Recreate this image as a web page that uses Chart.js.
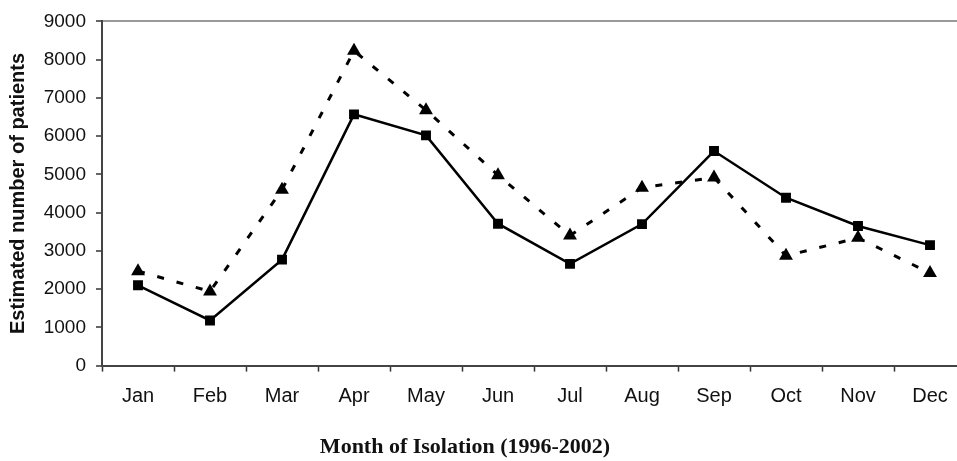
<!DOCTYPE html>
<html lang="en">
<head>
    <meta charset="UTF-8">
    <title>Estimated number of patients by month of isolation</title>
    <script src="https://cdn.jsdelivr.net/npm/chart.js@4.4.0/dist/chart.umd.min.js"></script>
    <style>
        html, body { margin: 0; padding: 0; background: #fff; overflow: hidden; }
        /* the original plot runs a little past the right edge of the picture,
           so the canvas is slightly wider than the window */
        #lineChart { display: block; }
    </style>
</head>
<body>
    <canvas id="lineChart" width="966" height="461"></canvas>
    <script>
        // values
        const months = ['Jan', 'Feb', 'Mar', 'Apr', 'May', 'Jun', 'Jul', 'Aug', 'Sep', 'Oct', 'Nov', 'Dec'];
        const squareSeries = [2100, 1180, 2770, 6570, 6020, 3710, 2660, 3700, 5610, 4390, 3650, 3150];
        const triangleSeries = [2470, 1940, 4600, 8230, 6680, 4980, 3400, 4650, 4920, 2870, 3340, 2420];
        const yMin = 0;
        const yMax = 9000;
        const yStep = 1000;

        // the bottom title sits a bit left of the page centre in the original
        const shiftTitle = {
            id: 'shiftTitle',
            afterLayout(chart) {
                const t = chart.titleBlock;
                if (t) {
                    t.left -= 18;
                    t.right -= 18;
                }
            }
        };

        const ctx = document.getElementById('lineChart').getContext('2d');
        const lineChart = new Chart(ctx, {
            type: 'line',
            data: {
                labels: months,
                datasets: [{
                    label: 'Series 1',
                    data: squareSeries,
                    borderColor: '#000',
                    backgroundColor: '#000',
                    borderWidth: 2.5,
                    pointStyle: 'rect',
                    pointRadius: 7,
                    pointBorderWidth: 0,
                    tension: 0
                }, {
                    label: 'Series 2',
                    data: triangleSeries,
                    borderColor: '#000',
                    backgroundColor: '#000',
                    borderWidth: 3,
                    borderDash: [7, 13],
                    pointStyle: 'triangle',
                    pointRadius: 8,
                    pointBorderWidth: 0,
                    tension: 0
                }]
            },
            plugins: [shiftTitle],
            options: {
                responsive: false,
                animation: false,
                layout: {
                    autoPadding: false,
                    padding: { top: 20, right: 0, bottom: 0, left: 0 }
                },
                plugins: {
                    legend: { display: false },
                    tooltip: { enabled: false },
                    title: {
                        display: true,
                        position: 'bottom',
                        text: 'Month of Isolation (1996-2002)',
                        color: '#111',
                        font: { family: '"Liberation Serif", serif', size: 22, weight: 'bold' },
                        padding: { top: 0, bottom: 0 }
                    }
                },
                scales: {
                    x: {
                        offset: true,
                        grid: {
                            offset: true,
                            color: 'rgba(0,0,0,0)',
                            tickColor: '#333',
                            tickLength: 6,
                            tickWidth: 1.5
                        },
                        border: { color: '#444', width: 2 },
                        ticks: {
                            color: '#111',
                            padding: 13,
                            font: { family: '"Liberation Sans", Arial, sans-serif', size: 20 }
                        },
                        afterFit: function(scale) {
                            scale.height = 69;
                        }
                    },
                    y: {
                        min: yMin,
                        max: yMax,
                        grid: {
                            color: function(c) {
                                return c.tick && c.tick.value === yMax ? '#999' : 'rgba(0,0,0,0)';
                            },
                            lineWidth: 2,
                            tickColor: '#333',
                            tickLength: 6,
                            tickWidth: 1.5
                        },
                        border: { color: '#444', width: 2 },
                        ticks: {
                            stepSize: yStep,
                            color: '#111',
                            padding: 10,
                            font: { family: '"Liberation Sans", Arial, sans-serif', size: 19 },
                            callback: function(value) {
                                return String(value);
                            }
                        },
                        title: {
                            display: true,
                            text: 'Estimated number of patients',
                            color: '#111',
                            padding: { top: 6, bottom: 0 },
                            font: { family: '"Liberation Sans", Arial, sans-serif', size: 20, weight: 'bold' }
                        },
                        afterFit: function(scale) {
                            scale.width = 102;
                        }
                    }
                }
            }
        });
    </script>
</body>
</html>
